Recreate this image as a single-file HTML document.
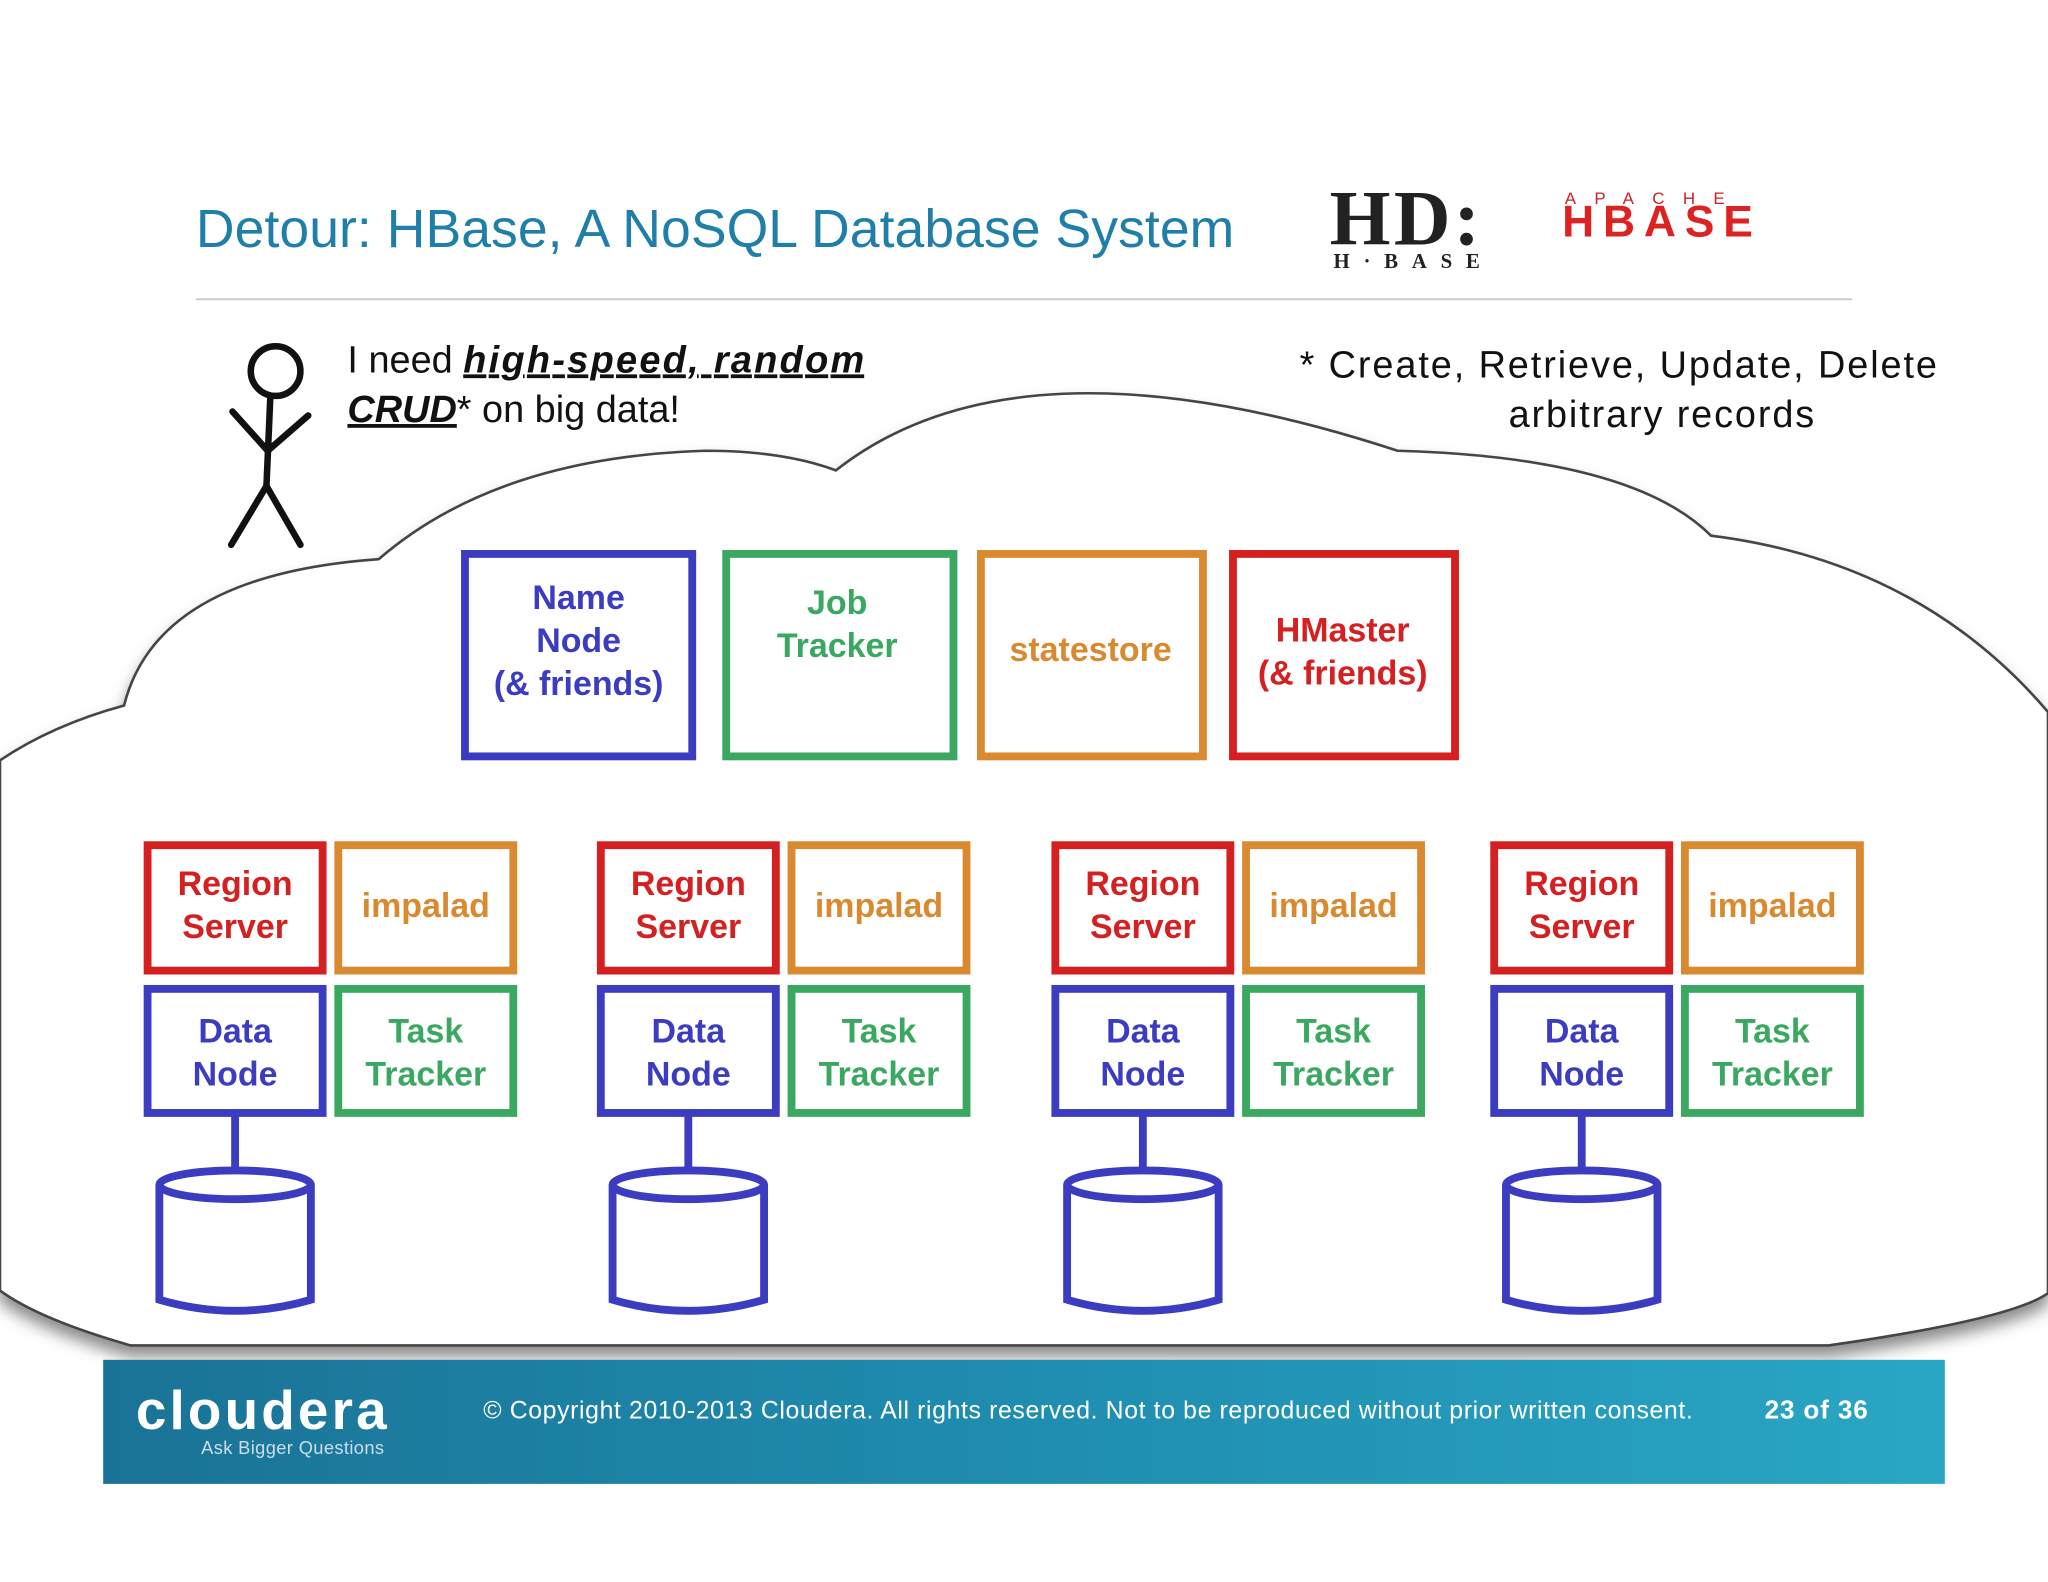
<!DOCTYPE html>
<html><head><meta charset="utf-8"><style>
html,body{margin:0;padding:0;background:#fff;}
svg{display:block;}
text{font-family:"Liberation Sans",sans-serif;font-weight:bold;}
</style></head><body>
<svg width="2048" height="1582" viewBox="0 0 1568 1211" xmlns="http://www.w3.org/2000/svg">
<defs>
<linearGradient id="ft" x1="0" y1="0" x2="1" y2="0">
<stop offset="0" stop-color="#1a7396"/><stop offset="0.5" stop-color="#1f8db0"/><stop offset="1" stop-color="#2aa6c4"/>
</linearGradient>
<filter id="sh" x="-5%" y="-5%" width="110%" height="115%"><feDropShadow dx="0" dy="8" stdDeviation="6" flood-color="#000" flood-opacity="0.45"/></filter>
</defs>
<text x="150" y="189" font-size="41" fill="#1f7fa8" style="font-weight:normal" textLength="795">Detour: HBase, A NoSQL Database System</text>
<line x1="150" y1="229" x2="1418" y2="229" stroke="#ccc" stroke-width="1.5"/>
<text x="1018" y="187" font-size="60" fill="#222" style="font-family:'Liberation Serif',serif" textLength="115">HD:</text>
<text x="1021" y="205" font-size="16" fill="#222" style="font-family:'Liberation Serif',serif" textLength="112">H·BASE</text>
<text x="1198" y="156" font-size="13" fill="#c22" letter-spacing="14" style="font-weight:normal">APACHE</text>
<text x="1196" y="181" font-size="34" fill="#d22" textLength="146">HBASE</text>
<path filter="url(#sh)" d="M0 582 Q40 555 95 540 Q120 440 290 428 Q380 350 540 345 Q600 345 640 360 Q780 250 1070 345 Q1250 350 1310 410 Q1470 430 1568 545 L1568 990 Q1540 1010 1400 1030 L100 1030 Q30 1010 0 988 Z" fill="#fff" stroke="#444" stroke-width="2"/>
<g stroke="#111" stroke-width="5" fill="none" stroke-linecap="round">
<circle cx="211" cy="284" r="19"/>
<line x1="207" y1="303" x2="204" y2="372"/>
<line x1="178" y1="315" x2="205" y2="345"/>
<line x1="236" y1="318" x2="205" y2="345"/>
<line x1="204" y1="372" x2="177" y2="417"/>
<line x1="204" y1="372" x2="230" y2="417"/>
</g>
<text x="266" y="285" font-size="29" fill="#111" style="font-weight:normal">I need <tspan font-weight="bold" font-style="italic" text-decoration="underline" textLength="307">high-speed, random</tspan></text>
<text x="266" y="323" font-size="29" fill="#111" style="font-weight:normal"><tspan font-weight="bold" font-style="italic" text-decoration="underline">CRUD</tspan>* on big data!</text>
<text x="995" y="289" font-size="29" fill="#111" style="font-weight:normal" textLength="488">* Create, Retrieve, Update, Delete</text>
<text x="1155" y="327" font-size="29" fill="#111" style="font-weight:normal" textLength="234">arbitrary records</text>
<g stroke-width="6" fill="#fff">
<rect x="356" y="424" width="174" height="155" stroke="#3c3cc0"/>
<rect x="556" y="424" width="174" height="155" stroke="#3aa860"/>
<rect x="751" y="424" width="170" height="155" stroke="#d98a30"/>
<rect x="944" y="424" width="170" height="155" stroke="#d42020"/>
</g>
<g font-size="26" text-anchor="middle">
<text x="443" y="466" fill="#3c3cc0">Name</text><text x="443" y="499" fill="#3c3cc0">Node</text><text x="443" y="532" fill="#3c3cc0">(&amp; friends)</text>
<text x="641" y="470" fill="#3aa860">Job</text><text x="641" y="503" fill="#3aa860">Tracker</text>
<text x="835" y="506" fill="#d98a30">statestore</text>
<text x="1028" y="491" fill="#d42020">HMaster</text><text x="1028" y="524" fill="#d42020">(&amp; friends)</text>
</g>
<g id="grp">
<g stroke-width="6" fill="#fff">
<rect x="113" y="647" width="134" height="96" stroke="#d42020"/>
<rect x="259" y="647" width="134" height="96" stroke="#d98a30"/>
<rect x="113" y="757" width="134" height="95" stroke="#3c3cc0"/>
<rect x="259" y="757" width="134" height="95" stroke="#3aa860"/>
<line x1="180" y1="852" x2="180" y2="897" stroke="#3c3cc0"/>
<path d="M122 907 L122 995 Q180 1012 238 995 L238 907" stroke="#3c3cc0"/>
<ellipse cx="180" cy="907" rx="58" ry="11" stroke="#3c3cc0"/>
</g>
<g font-size="26" text-anchor="middle">
<text x="180" y="685" fill="#d42020">Region</text><text x="180" y="718" fill="#d42020">Server</text>
<text x="326" y="702" fill="#d98a30">impalad</text>
<text x="180" y="798" fill="#3c3cc0">Data</text><text x="180" y="831" fill="#3c3cc0">Node</text>
<text x="326" y="798" fill="#3aa860">Task</text><text x="326" y="831" fill="#3aa860">Tracker</text>
</g>
</g>
<use href="#grp" x="347"/>
<use href="#grp" x="695"/>
<use href="#grp" x="1031"/>
<rect x="79" y="1041" width="1410" height="95" fill="url(#ft)"/>
<text x="104" y="1094" font-size="42" fill="#fff" textLength="192">cloudera</text>
<text x="154" y="1113" font-size="14" fill="#cde" style="font-weight:normal" textLength="140">Ask Bigger Questions</text>
<text x="370" y="1086" font-size="19" fill="#fff" style="font-weight:normal" textLength="926">© Copyright 2010-2013 Cloudera. All rights reserved. Not to be reproduced without prior written consent.</text>
<text x="1351" y="1086" font-size="20" fill="#fff" textLength="79">23 of 36</text>
</svg>
</body></html>
